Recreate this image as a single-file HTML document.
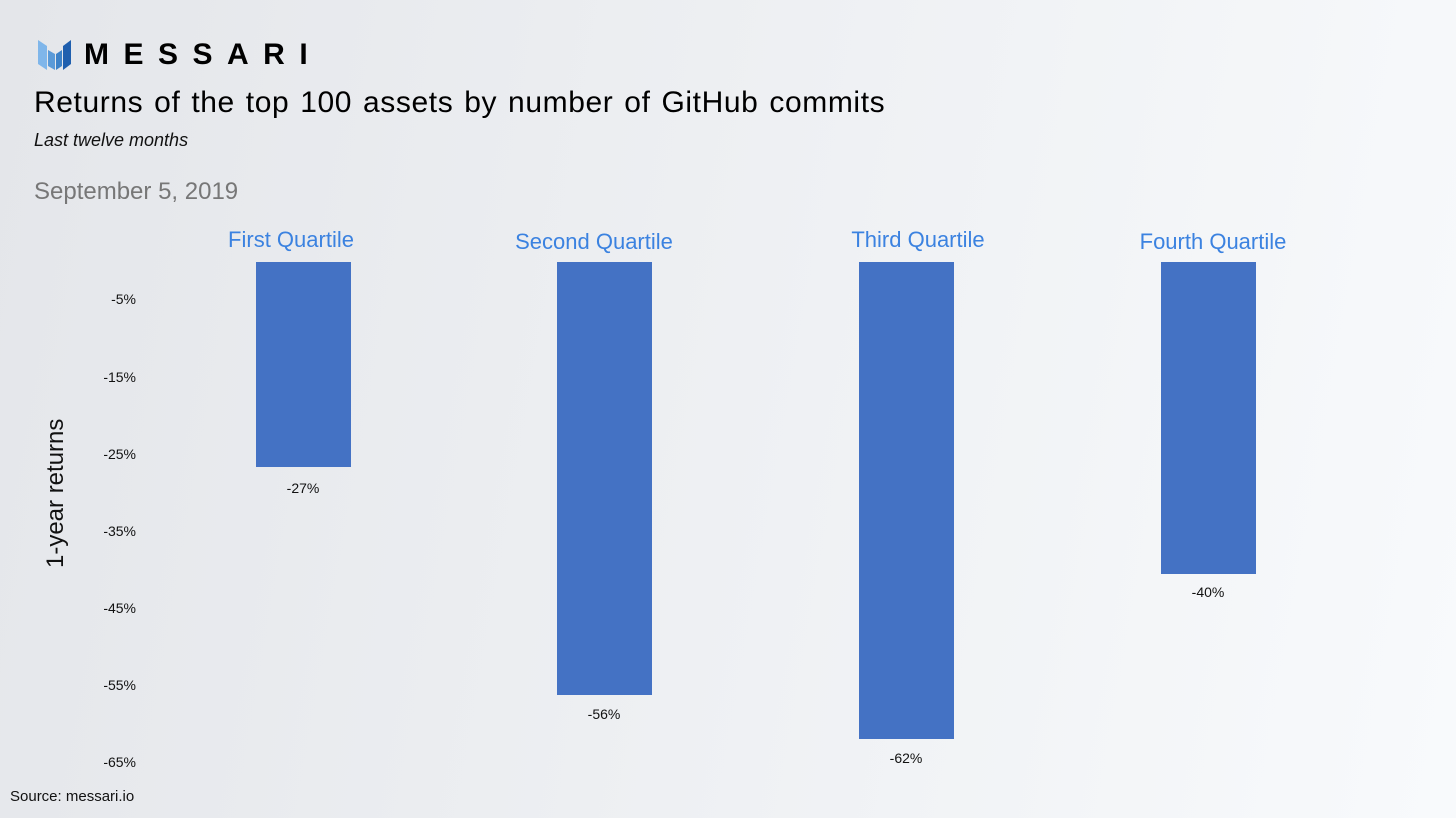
<!DOCTYPE html>
<html><head><meta charset="utf-8"><style>
body{margin:0;width:1456px;height:818px;overflow:hidden;background:linear-gradient(100deg,#e4e6ea 0%,#eef0f3 50%,#f8fafc 100%);font-family:"Liberation Sans",sans-serif;position:relative}
.a{position:absolute;white-space:nowrap}
.bar{position:absolute;background:#4472c4;top:262px;width:95px}
.yl{position:absolute;right:1320px;font-size:14px;color:#111}
.q{position:absolute;color:#3b82e0;font-size:22px;transform:translateX(-50%);top:227px}
.v{position:absolute;font-size:14px;color:#111;transform:translateX(-50%)}
</style></head><body>
<svg class="a" style="left:38px;top:40px" width="34" height="30" viewBox="0 0 34 30">
<polygon points="0,0 9,6 9,30 0,24" fill="#7fb6ea"/>
<polygon points="10,10 17,14 17,30 10,26" fill="#5a9ad8"/>
<polygon points="18,14 24,10 24,26 18,30" fill="#3d82c8"/>
<polygon points="25,6 33,0 33,24 25,30" fill="#1f5fae"/>
</svg>
<div class="a" style="left:84px;top:38px;font-size:30px;font-weight:bold;letter-spacing:14.5px;color:#000">MESSARI</div>
<div class="a" style="left:34px;top:86px;font-size:30px;letter-spacing:0.6px;word-spacing:2px;color:#000">Returns of the top 100 assets by number of GitHub commits</div>
<div class="a" style="left:34px;top:130px;font-size:18px;font-style:italic;color:#111">Last twelve months</div>
<div class="a" style="left:34px;top:178px;font-size:24px;color:#777">September 5, 2019</div>
<div class="a" style="left:42px;top:568px;font-size:24px;color:#111;transform:rotate(-90deg);transform-origin:0 0">1-year returns</div>
<div class="yl" style="top:291px">-5%</div>
<div class="yl" style="top:369px">-15%</div>
<div class="yl" style="top:446px">-25%</div>
<div class="yl" style="top:523px">-35%</div>
<div class="yl" style="top:600px">-45%</div>
<div class="yl" style="top:677px">-55%</div>
<div class="yl" style="top:754px">-65%</div>
<div class="bar" style="left:256px;height:205px"></div>
<div class="bar" style="left:557px;height:433px"></div>
<div class="bar" style="left:859px;height:477px"></div>
<div class="bar" style="left:1161px;height:312px"></div>
<div class="q" style="left:291px">First Quartile</div>
<div class="q" style="left:594px;top:229px">Second Quartile</div>
<div class="q" style="left:918px">Third Quartile</div>
<div class="q" style="left:1213px;top:229px">Fourth Quartile</div>
<div class="v" style="left:303px;top:480px">-27%</div>
<div class="v" style="left:604px;top:706px">-56%</div>
<div class="v" style="left:906px;top:750px">-62%</div>
<div class="v" style="left:1208px;top:584px">-40%</div>
<div class="a" style="left:10px;top:788px;font-size:15px;color:#111">Source: messari.io</div>
</body></html>
